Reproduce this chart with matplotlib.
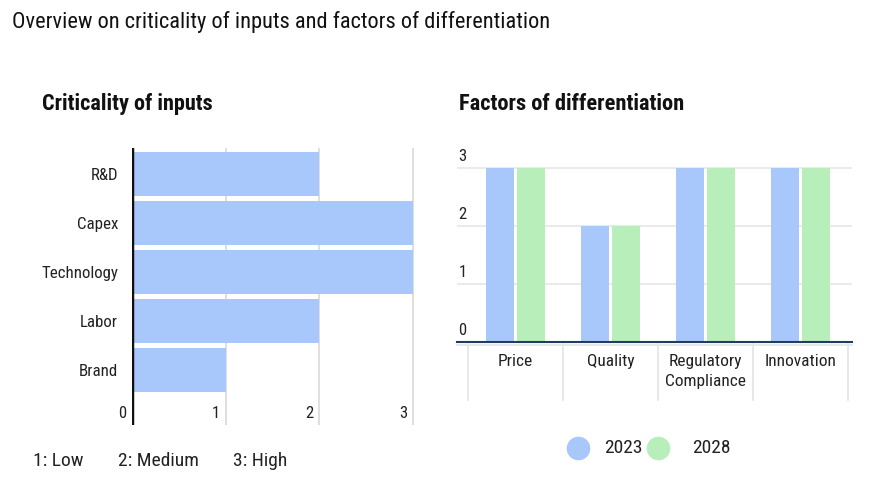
import matplotlib
matplotlib.use("Agg")
import matplotlib.pyplot as plt
import matplotlib.transforms as mtransforms
from matplotlib.lines import Line2D

plt.rcParams['font.family'] = ['Roboto Condensed', 'Roboto', 'DejaVu Sans']

# ---- data ----
inputs = ["R&D", "Capex", "Technology", "Labor", "Brand"]
input_values = [2, 3, 3, 2, 1]
input_ticks = [0, 1, 2, 3]
scale_labels = ["1: Low", "2: Medium", "3: High"]

factors = ["Price", "Quality", "Regulatory\nCompliance", "Innovation"]
values_2023 = [3, 2, 3, 3]
values_2028 = [3, 2, 3, 3]
factor_ticks = [0, 1, 2, 3]
series_names = ["2023", "2028"]

BLUE = "#a8c8fb"
GREEN = "#b8eeb9"
GRID = "#dcdcdc"
TXT = "#222222"

W, H = 896, 480
fig = plt.figure(figsize=(W / 100, H / 100), dpi=100)


def px_axes(l, t, r, b):
    return fig.add_axes([l / W, 1 - b / H, (r - l) / W, (b - t) / H])


fig.text(12 / W, 1 - 22 / H, "Overview on criticality of inputs and factors of differentiation",
         fontsize=16.1, color="#111111", va="center", ha="left")
fig.text(42 / W, 1 - 104 / H, "Criticality of inputs", fontsize=16, fontweight="bold",
         color="#111111", va="center", ha="left")
fig.text(459 / W, 1 - 104 / H, "Factors of differentiation", fontsize=16.2, fontweight="bold",
         color="#111111", va="center", ha="left")

# ---- left: horizontal bars ----
ax1 = px_axes(132, 148, 416, 425)
ypos = list(range(len(inputs)))
ax1.barh(ypos, input_values, height=0.9, color=BLUE, zorder=2)
ax1.set_xlim(0, 284 / 93.67)
ax1.set_ylim(5.12, -0.53)
for s in ax1.spines.values():
    s.set_visible(False)
ax1.set_xticks([])
ax1.set_yticks(ypos)
ax1.set_yticklabels(inputs, fontsize=12.2, color=TXT)
ax1.tick_params(axis='y', length=0, pad=10)
for t in input_ticks[1:]:
    ax1.axvline(t, color=GRID, lw=1.3, zorder=1)
ax1.axvline(0, color="#111111", lw=2.5, zorder=3)
tr = mtransforms.blended_transform_factory(ax1.transData, ax1.transAxes)
off = mtransforms.offset_copy(tr, fig=fig, x=-4, y=0, units='points')
for t in input_ticks:
    ax1.text(t, 12 / 277, str(t), transform=off, ha="right", va="center",
             fontsize=12, color=TXT, clip_on=False)
xs = [33, 118, 233]
for x, lab in zip(xs, scale_labels):
    fig.text(x / W, 1 - 461 / H, lab, fontsize=14, color=TXT, va="center", ha="left")

# ---- right: grouped vertical bars ----
ax2 = px_axes(457, 150, 852, 342)
xc = list(range(len(factors)))
bw = 0.295
ax2.bar([x - 0.165 for x in xc], values_2023, width=bw, color=BLUE, zorder=2)
ax2.bar([x + 0.165 for x in xc], values_2028, width=bw, color=GREEN, zorder=2)
ax2.set_xlim(-0.616, 3.542)
ax2.set_ylim(0, 192 / 58)
for s in ax2.spines.values():
    s.set_visible(False)
ax2.set_xticks([])
ax2.set_yticks([])
for t in factor_ticks[1:]:
    ax2.axhline(t, color="#e6e6e6", lw=1.2, zorder=1)
ax2.axhline(0, color="#1f3d63", lw=1.5, zorder=3, clip_on=False)
tr2 = mtransforms.blended_transform_factory(ax2.transAxes, ax2.transData)
off2 = mtransforms.offset_copy(tr2, fig=fig, x=1, y=8, units='points')
for t in factor_ticks:
    ax2.text(0, t, str(t), transform=off2, ha="left", va="center", fontsize=12,
             color=TXT, clip_on=False)
# category separators and labels below the baseline
sep_tr = mtransforms.blended_transform_factory(ax2.transData, fig.transFigure)
for b in [x - 0.5 for x in xc] + [len(factors) - 0.5]:
    fig.add_artist(Line2D([b, b], [1 - 344 / H, 1 - 400 / H], transform=sep_tr,
                          color="#e6e6e6", lw=1.3))
fig.add_artist(Line2D([-0.616, 3.542], [1 - 345 / H, 1 - 345 / H], transform=sep_tr,
                      color="#e6e6e6", lw=1.3))
for x, lab in zip(xc, factors):
    fig.text(x, 1 - 354 / H, lab, transform=sep_tr, ha="center", va="top",
             fontsize=12.5, color=TXT, linespacing=1.38)

# legend
leg_y = 1 - 448 / H
for cx, tx, col, name in [(578, 604, BLUE, series_names[0]), (658, 692, GREEN, series_names[1])]:
    fig.add_artist(Line2D([cx / W], [leg_y], marker="o", markersize=16, color=col,
                          markeredgecolor=col, transform=fig.transFigure))
    fig.text(tx / W, leg_y, name, fontsize=14, color=TXT, va="center", ha="left")

fig.savefig("out.png", dpi=100, facecolor="white")
